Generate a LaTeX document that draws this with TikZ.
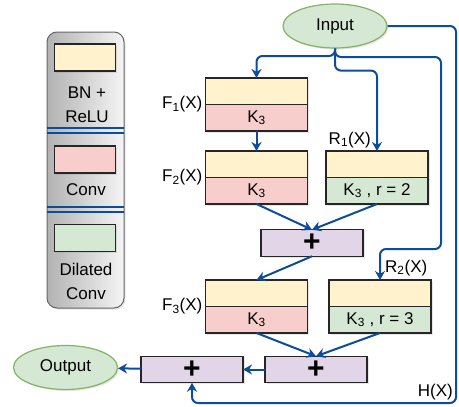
\documentclass[tikz,border=0pt]{standalone}
\usepackage{fontspec}
\setmainfont{Liberation Sans}
\usepackage{tikz}
\usetikzlibrary{positioning,arrows.meta,shapes.geometric,shadows}
\definecolor{bnfill}{HTML}{FFF2CC}
\definecolor{convfill}{HTML}{F8CECC}
\definecolor{dilfill}{HTML}{D5E8D4}
\definecolor{addfill}{HTML}{E1D5E7}
\definecolor{termline}{HTML}{82B366}
\definecolor{flowblue}{HTML}{0D4C9A}
\def\BlockW{102pt}
\def\HalfH{26.5pt}
\tikzset{
	soft/.style={drop shadow={opacity=0.2,shadow xshift=1.5pt,shadow yshift=-1.5pt}},
	half/.style={draw=black!85,line width=1.2pt,minimum width=\BlockW,minimum height=\HalfH,inner sep=0pt,outer sep=0pt,soft},
	bn/.style={half,fill=bnfill},
	conv/.style={half,fill=convfill},
	dil/.style={half,fill=dilfill},
	addop/.style={half,fill=addfill,font=\fontsize{30}{30}\selectfont\bfseries},
	term/.style={ellipse,draw=termline,fill=dilfill,line width=1.2pt,minimum width=104pt,minimum height=44pt,inner sep=0pt,soft},
	flow/.style={draw=flowblue,line width=2pt,rounded corners=6pt,-{Stealth[length=9pt,width=10pt]}},
	sep/.style={draw=flowblue,line width=1.4pt},
	lbl/.style={inner sep=1pt},
}

\begin{document}
\begin{tikzpicture}[x=1pt,y=-1pt,font=\fontsize{17}{24}\selectfont]
	\useasboundingbox (0,0) rectangle (459,407);
	% legend
	\node[draw=black!60,line width=1pt,rounded corners=10pt,left color=black!30,right color=black!4,minimum width=77pt,minimum height=276pt,soft] (leg) at (85.5,170) {};
	\node[bn,minimum width=61pt,minimum height=27pt] (kbn) at (85,57.5) {};
	\node[conv,minimum width=61pt,minimum height=27pt] (kconv) at (85,159.5) {};
	\node[dil,minimum width=61pt,minimum height=27pt] (kdil) at (85,238) {};
	\node[align=center] (tbn) at (87,104.5) {BN +\\ReLU};
	\node (tconv) at (86,190) {Conv};
	\node[align=center] (tdil) at (86,281.5) {Dilated\\Conv};
	\foreach \y in {128,133,207,212}
		\draw[sep] (47,\y) -- (124,\y);
	% network
	\node[term] (in) at (335,26) {Input};
	\node[term] (out) at (65.5,367.5) {Output};
	\node[bn] (f1t) at (256.5,91.25) {};
	\node[conv,below=0pt of f1t] (f1b) {K\textsubscript{3}};
	\node[bn] (f2t) at (256.5,164.25) {};
	\node[conv,below=0pt of f2t] (f2b) {K\textsubscript{3}};
	\node[bn] (r1t) at (377,164.25) {};
	\node[dil,below=0pt of r1t] (r1b) {K\textsubscript{3} , r = 2};
	\node[addop] (p1) at (312,243) {+};
	\node[bn] (f3t) at (256.5,293.25) {};
	\node[conv,below=0pt of f3t] (f3b) {K\textsubscript{3}};
	\node[bn] (r2t) at (380,293.25) {};
	\node[dil,below=0pt of r2t] (r2b) {K\textsubscript{3} , r = 3};
	\node[addop] (p2) at (316,369.5) {+};
	\node[addop] (p3) at (192,369.5) {+};
	\coordinate (rr) at (441,57);
	\coordinate (hh) at (456,403);
	\node[lbl,left=2pt of f1t.south west] {F\textsubscript{1}(X)};
	\node[lbl,left=2pt of f2t.south west] {F\textsubscript{2}(X)};
	\node[lbl,left=2pt of f3t.south west] {F\textsubscript{3}(X)};
	\node[lbl,above left=2pt and 5pt of r1t.north] {R\textsubscript{1}(X)};
	\node[lbl,above right=3pt and 4pt of r2t.north] {R\textsubscript{2}(X)};
	\node[lbl,above left=2pt and 2pt of hh] {H(X)};
	\draw[flow] (in.south) |- ([yshift=22pt]f1t.north) -- (f1t.north);
	\draw[flow] (in.south) -- ++(0,22) -| (r1t.north);
	\draw[flow] (in.south) |- (rr) |- ([yshift=31pt]r2t.north) -- (r2t.north);
	\draw[flow] (in.east) -| (hh) -| (p3.south);
	\draw[flow] (f1b) -- (f2t);
	\draw[flow] (f2b.south) -- (p1.north);
	\draw[flow] (r1b.south) -- (p1.north);
	\draw[flow] (p1.south) -- (f3t.north);
	\draw[flow] (f3b.south) -- (p2.north);
	\draw[flow] (r2b.south) -- (p2.north);
	\draw[flow] (p2) -- (p3);
	\draw[flow] (p3) -- (out);
\end{tikzpicture}
\end{document}
